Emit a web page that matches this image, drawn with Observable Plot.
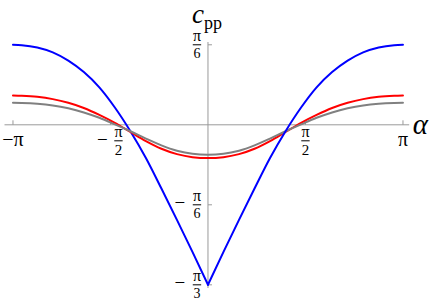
<!DOCTYPE html>
<html><head><meta charset="utf-8">
<script src="https://cdn.jsdelivr.net/npm/d3@7"></script>
<script src="https://cdn.jsdelivr.net/npm/@observablehq/plot@0.6"></script>
<style>body{margin:0;background:#fff} svg{display:block} svg text{font-family:'Liberation Serif','Times New Roman',Times,'DejaVu Serif',serif !important}</style>
</head><body><div id="chart"></div>
<script>
// α sample points (right half; the curves are symmetric in α)
const alpha    = [0, 0.25, 0.5, 0.75, 1.0, 1.25, 1.5, 1.75, 2.0, 2.25, 2.5, 2.75, 3.0, 3.1416];
const blueVals = [-1.047, -0.832, -0.622, -0.417, -0.217, -0.042, 0.113, 0.245, 0.345, 0.420, 0.474, 0.506, 0.521, 0.5236];
const redVals  = [-0.218, -0.212, -0.192, -0.157, -0.107, -0.047, 0.013, 0.065, 0.110, 0.144, 0.168, 0.183, 0.190, 0.192];
const grayVals = [-0.196, -0.190, -0.170, -0.135, -0.090, -0.042, 0.003, 0.046, 0.081, 0.108, 0.127, 0.138, 0.143, 0.144];
const seriesNames  = ["blue", "red", "gray"];
const seriesColors = ["#0000ff", "#ff0000", "#808080"];
const xTickVals   = [-Math.PI, -Math.PI / 2, Math.PI / 2, Math.PI];
const xTickLabels = ["−π", "−π/2", "π/2", "π"];
const yTickVals   = [Math.PI / 6, -Math.PI / 6, -Math.PI / 3];
const yTickLabels = ["π/6", "−π/6", "−π/3"];

const rows = [];
[blueVals, redVals, grayVals].forEach((vals, i) => {
  const s = seriesNames[i];
  const cusp = s === "blue";
  alpha.forEach((a, j) => {
    if (a !== 0 || cusp) rows.push({a: -a, v: vals[j], s, z: cusp ? s + "L" : s});
    rows.push({a: a, v: vals[j], s, z: cusp ? s + "R" : s});
  });
});
rows.sort((p, q) => p.a - q.a);

const sz = size => Math.sqrt(size / Math.PI);
const vTick = {draw(c, size) { const r = sz(size); c.moveTo(0, 0); c.lineTo(0, -r); }};
const hTick = {draw(c, size) { const r = sz(size); c.moveTo(0, 0); c.lineTo(r, 0); }};
const bar   = {draw(c, size) { const r = sz(size); c.moveTo(-r, 0); c.lineTo(r, 0); }};

function parse(label, v) {
  const sign = label.startsWith("−");
  const rest = sign ? label.slice(1) : label;
  const [num, den] = rest.split("/");
  return {v, sign, num, den};
}
const FONT = "'Liberation Serif','Times New Roman',Times,'DejaVu Serif',serif";
const axisColor = "#9a9a9a";

const labelMarks = [];
xTickVals.forEach((v, i) => {
  const p = parse(xTickLabels[i], v);
  const base = {x: d => d.v, y: () => 0, fontFamily: FONT, lineAnchor: "middle", fill: "black"};
  if (!p.den) {
    labelMarks.push(Plot.text([p], {...base, text: d => (d.sign ? "−" : "") + d.num, dy: 15, fontSize: 20}));
  } else {
    const fdx = p.sign ? 8 : 0;
    labelMarks.push(Plot.text([p], {...base, text: "num", dx: fdx, dy: 16 - 9, fontSize: 16}));
    labelMarks.push(Plot.dot([p], {x: d => d.v, y: () => 0, dx: fdx, dy: 16, symbol: bar, r: 4.2, stroke: "black", strokeWidth: 1, fill: "none"}));
    labelMarks.push(Plot.text([p], {...base, text: "den", dx: fdx, dy: 16 + 9.8, fontSize: 15}));
    if (p.sign) labelMarks.push(Plot.text([p], {...base, text: () => "−", dx: fdx - 16, dy: 15.5, fontSize: 19}));
  }
});
yTickVals.forEach((v, i) => {
  const p = parse(yTickLabels[i], v);
  const base = {x: () => 0, y: d => d.v, fontFamily: FONT, lineAnchor: "middle", fill: "black"};
  const fdx = -11;
  labelMarks.push(Plot.text([p], {...base, text: "num", dx: fdx, dy: -9, fontSize: 16}));
  labelMarks.push(Plot.dot([p], {x: () => 0, y: d => d.v, dx: fdx, dy: 0, symbol: bar, r: 4.2, stroke: "black", strokeWidth: 1, fill: "none"}));
  labelMarks.push(Plot.text([p], {...base, text: "den", dx: fdx, dy: 8.8, fontSize: 14}));
  if (p.sign) labelMarks.push(Plot.text([p], {...base, text: () => "−", dx: fdx - 17, dy: -1.5, fontSize: 19}));
});

const chart = Plot.plot({
  width: 438,
  height: 300,
  marginLeft: 4.5,
  marginRight: 28.8,
  marginTop: 42,
  marginBottom: 12,
  style: {background: "white", fontFamily: FONT, overflow: "visible"},
  x: {domain: [-3.27, 3.25], axis: null},
  y: {domain: [-1.0713, 0.5386], axis: null},
  color: {domain: seriesNames, range: seriesColors},
  marks: [
    Plot.ruleY([0], {stroke: axisColor, strokeWidth: 1}),
    Plot.ruleX([0], {stroke: axisColor, strokeWidth: 1}),
    Plot.dot(xTickVals, {x: d => d, y: () => 0, symbol: vTick, r: 4.5, stroke: axisColor, fill: "none", strokeWidth: 1}),
    Plot.dot(yTickVals, {x: () => 0, y: d => d, symbol: hTick, r: 4, stroke: axisColor, fill: "none", strokeWidth: 1}),
    Plot.line(rows, {x: "a", y: "v", z: "z", stroke: "s", strokeWidth: 2, curve: "monotone-x"}),
    ...labelMarks,
    Plot.text(["α"], {y: () => 0, frameAnchor: "right", textAnchor: "start", lineAnchor: "middle", dx: 3, fontSize: 29, fontStyle: "italic", fontFamily: FONT, text: d => d, fill: "black"}),
    Plot.text(["c"], {x: () => 0, frameAnchor: "top", textAnchor: "end", lineAnchor: "bottom", dx: -4, dy: -20, fontSize: 27, fontStyle: "italic", fontFamily: FONT, text: d => d, fill: "black"}),
    Plot.text(["pp"], {x: () => 0, frameAnchor: "top", textAnchor: "start", lineAnchor: "bottom", dx: -4, dy: -14, fontSize: 18, fontFamily: FONT, text: d => d, fill: "black"})
  ]
});
document.getElementById("chart").appendChild(chart);
</script>
</body></html>
